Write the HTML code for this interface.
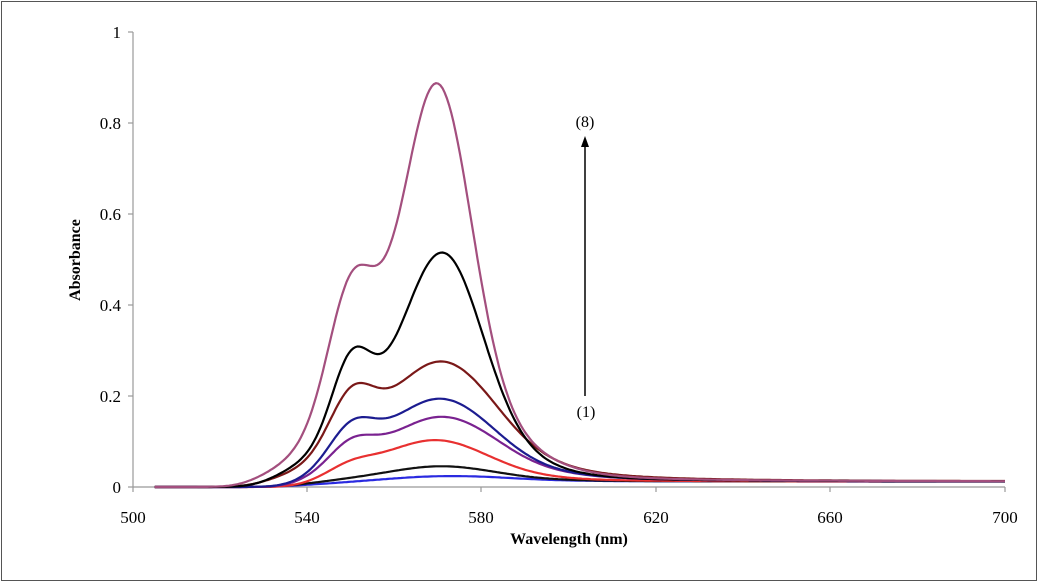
<!DOCTYPE html>
<html><head><meta charset="utf-8"><style>
body{margin:0;background:#fff;}
svg{display:block;font-family:"Liberation Serif",serif;}
</style></head><body>
<svg id="s" width="1039" height="584" viewBox="0 0 1039 584" xmlns="http://www.w3.org/2000/svg">
<rect x="1.5" y="1.5" width="1035" height="579" fill="#fff" stroke="#555" stroke-width="1"/>
<g stroke="#999" stroke-width="1.2">
<line x1="133" y1="32" x2="133" y2="487"/>
<line x1="133" y1="487" x2="1005" y2="487"/>
<line x1="128" y1="32" x2="133" y2="32"/><line x1="128" y1="123" x2="133" y2="123"/><line x1="128" y1="214" x2="133" y2="214"/><line x1="128" y1="305" x2="133" y2="305"/><line x1="128" y1="396" x2="133" y2="396"/><line x1="128" y1="487" x2="133" y2="487"/>
<line x1="133" y1="487" x2="133" y2="492"/><line x1="307" y1="487" x2="307" y2="492"/><line x1="481" y1="487" x2="481" y2="492"/><line x1="656" y1="487" x2="656" y2="492"/><line x1="830" y1="487" x2="830" y2="492"/><line x1="1005" y1="487" x2="1005" y2="492"/>
</g>
<g font-size="17" fill="#000" text-anchor="end">
<text x="121" y="38">1</text><text x="121" y="129">0.8</text><text x="121" y="220">0.6</text><text x="121" y="311">0.4</text><text x="121" y="402">0.2</text><text x="121" y="493">0</text>
</g>
<g font-size="17" fill="#000" text-anchor="middle">
<text x="133" y="523">500</text><text x="307" y="523">540</text><text x="481" y="523">580</text><text x="656" y="523">620</text><text x="830" y="523">660</text><text x="1005" y="523">700</text>
</g>
<text x="569" y="544" font-size="16" font-weight="bold" text-anchor="middle">Wavelength (nm)</text>
<text transform="translate(80,260) rotate(-90)" font-size="16" font-weight="bold" text-anchor="middle">Absorbance</text>
<g id="curves" fill="none" stroke-width="2.2"></g>
<line x1="585" y1="396" x2="585" y2="145" stroke="#000" stroke-width="1.5"/>
<polygon points="585,136 581,147 589,147" fill="#000"/>
<text x="585" y="127" font-size="16" text-anchor="middle">(8)</text>
<text x="586" y="417" font-size="16" text-anchor="middle">(1)</text>
</svg>
<script>
const X=l=>133+(l-500)*(872/200), Y=v=>487-v*455;
const g=(l,c,s)=>Math.exp(-((l-c)*(l-c))/(2*s*s));
const sig=(l,c,w)=>1/(1+Math.exp(-(l-c)/w));
const L=(l)=>1/(1+Math.pow((l-582)/16,2))*sig(l,560,5);
const C=[
 [0.028,0.015,11,0.004,'#2a2ae0',528,571,0.45,5],
 [0.05,0.025,10,0.006,'#111',530,571,0.45,5],
 [0.107,0.065,10,0.012,'#e83030',534,570,0.45,5],
 [0.16,0.113,10,0.035,'#7a2290',532,571,0.45,5],
 [0.2,0.152,10,0.035,'#1c1c90',532,571,0.45,5],
 [0.283,0.225,10,0.06,'#7a1818',522,571,0.45,5],
 [0.525,0.305,8.5,0.035,'#000',524,571.5,0.32,4.5],
 [0.89,0.475,7.5,0.045,'#a34f7e',520,570,0.28,5.3]
];
let h='';
for(const [P,Sh,sm,t,col,on,pk,bf,ss] of C){
 const base=0.012;
 const B=bf*P;
 const M=P-0.88*B-t*L(pk)-base;
 const S=Math.max(0,Sh-0.755*B-M*g(550,pk,sm)-t*L(550)-base*0.5);
 let d='';
 for(let l=505;l<=700;l+=0.5){
  let v=M*g(l,pk,sm)+B*g(l,562,16)+S*g(l,550,ss)+t*L(l)+base*sig(l,565,8);
  v*=sig(l,on+5,3);
  d+=(d?'L':'M')+X(l).toFixed(1)+' '+Y(v).toFixed(1);
 }
 h+=`<path d="${d}" stroke="${col}"/>`;
}
document.getElementById('curves').innerHTML=h;
</script>
</body></html>
